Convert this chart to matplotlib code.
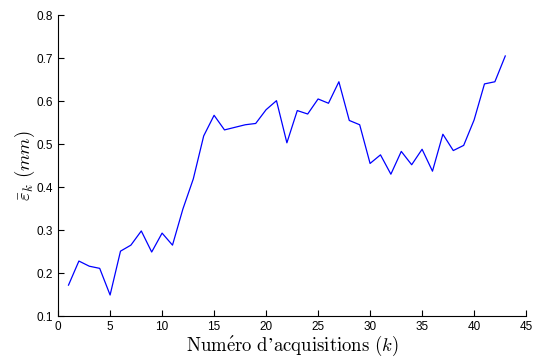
import matplotlib
matplotlib.use("Agg")
import matplotlib.pyplot as plt

# mean error per acquisition
k = list(range(1, 44))
err = [0.172, 0.228, 0.216, 0.211, 0.149, 0.251, 0.265, 0.298, 0.249, 0.293,
       0.265, 0.349, 0.419, 0.519, 0.567, 0.533, 0.539, 0.545, 0.548, 0.580,
       0.601, 0.503, 0.578, 0.570, 0.605, 0.595, 0.645, 0.555, 0.545, 0.455,
       0.475, 0.430, 0.483, 0.452, 0.488, 0.437, 0.523, 0.485, 0.497, 0.556,
       0.640, 0.645, 0.705]

xticks = list(range(0, 46, 5))
yticks = [0.1, 0.2, 0.3, 0.4, 0.5, 0.6, 0.7, 0.8]

plt.rcParams["mathtext.fontset"] = "cm"
plt.rcParams["font.family"] = ["Liberation Sans", "DejaVu Sans"]

fig = plt.figure(figsize=(5.33, 3.6), dpi=100)
ax = fig.add_axes([0.109, 0.122, 0.878, 0.836])
ax.plot(k, err, color="#0000ff", lw=0.9)

ax.set_xlim(0, 45)
ax.set_ylim(0.1, 0.8)
ax.set_xticks(xticks)
ax.set_yticks(yticks)
ax.set_xticklabels([str(t) for t in xticks])
ax.set_yticklabels([f"{t:.1f}" for t in yticks])
ax.tick_params(direction="in", labelsize=8.5, length=4, width=0.8, colors="black")
ax.spines["top"].set_visible(False)
ax.spines["right"].set_visible(False)
for s in ("left", "bottom"):
    ax.spines[s].set_linewidth(0.8)

ax.set_xlabel("$\\mathrm{Num\\acute{e}ro\\ d\u2019acquisitions}\\ (k)$", fontsize=13.5, labelpad=1)
ax.set_ylabel(r"$\bar{\varepsilon}_k\ (mm)$", fontsize=13.5, labelpad=0)

fig.savefig("out.png", dpi=100)
